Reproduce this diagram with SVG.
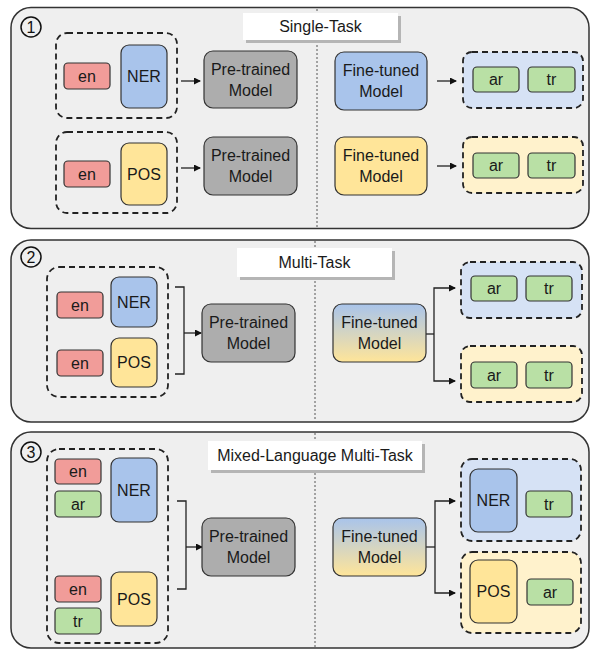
<svg xmlns="http://www.w3.org/2000/svg" width="590" height="650" viewBox="0 0 590 650">
<defs>
<linearGradient id="grad" x1="0" y1="0" x2="0" y2="1">
<stop offset="0" stop-color="#a9c4eb"/>
<stop offset="1" stop-color="#ffe599"/>
</linearGradient>
<marker id="arr" markerWidth="7" markerHeight="7" refX="6" refY="3.5" orient="auto" markerUnits="userSpaceOnUse">
<path d="M0,0 L7,3.5 L0,7 z" fill="#111"/>
</marker>
<style>
.panel{fill:#efefef;stroke:#333;stroke-width:1.5}
.div{stroke:#555;stroke-width:1;stroke-dasharray:2 2;fill:none}
.lblsh{fill:#b5b5b5}
.lbl{fill:#fff}
.grp{fill:none;stroke:#222;stroke-width:1.8;stroke-dasharray:6 4}
.gb{fill:#d6e2f5}
.gy{fill:#fff2cc}
.b{stroke:#333;stroke-width:1.2}
.en{fill:#f19c99}
.gr{fill:#b9e0a5}
.ner{fill:#a9c4eb}
.pos{fill:#ffe599}
.pre{fill:#adadad}
.ft{fill:url(#grad)}
text{font-family:"Liberation Sans",Arial,sans-serif;font-size:16px;fill:#1a1a1a;text-anchor:middle;dominant-baseline:central}
.num{fill:none;stroke:#111;stroke-width:1.5}
.num-t{font-size:16px;fill:#111}
.con{fill:none;stroke:#222;stroke-width:1.3}
</style>
</defs>

<!-- Panels -->
<g id="panel1">
<rect class="panel" x="11" y="7.5" width="578" height="221" rx="20"/>
<line class="div" x1="317" y1="9" x2="317" y2="227"/>
<rect class="lblsh" x="246" y="16" width="155" height="27"/>
<rect class="lbl" x="243" y="13" width="155" height="27"/>
<text x="320.5" y="26.5">Single-Task</text>
<circle class="num" cx="31" cy="27" r="10"/>
<text class="num-t" x="31" y="27.5">1</text>
</g>
<g id="panel2">
<rect class="panel" x="11" y="240" width="578" height="182" rx="20"/>
<line class="div" x1="315" y1="241" x2="315" y2="421"/>
<rect class="lblsh" x="240" y="251" width="155" height="29"/>
<rect class="lbl" x="237" y="248" width="155" height="29"/>
<text x="314.5" y="262.5">Multi-Task</text>
<circle class="num" cx="31" cy="257" r="10"/>
<text class="num-t" x="31" y="257.5">2</text>
</g>
<g id="panel3">
<rect class="panel" x="11" y="432" width="578" height="216" rx="20"/>
<line class="div" x1="315" y1="433" x2="315" y2="647"/>
<rect class="lblsh" x="211" y="444" width="214" height="29"/>
<rect class="lbl" x="208" y="441" width="214" height="29"/>
<text x="315" y="455.5">Mixed-Language Multi-Task</text>
<circle class="num" cx="31" cy="452" r="10"/>
<text class="num-t" x="31" y="452.5">3</text>
</g>

<!-- Connectors -->
<g id="connectors">
<path class="con" d="M181,81 H200" marker-end="url(#arr)"/>
<path class="con" d="M181,168 H200" marker-end="url(#arr)"/>
<path class="con" d="M437,81 H456" marker-end="url(#arr)"/>
<path class="con" d="M437,166 H456" marker-end="url(#arr)"/>
<path class="con" d="M175,287 H184 V374 H175"/>
<path class="con" d="M184,333 H201" marker-end="url(#arr)"/>
<path class="con" d="M426,334 H434"/>
<path class="con" d="M434,334 V288 H455" marker-end="url(#arr)"/>
<path class="con" d="M434,334 V381 H455" marker-end="url(#arr)"/>
<path class="con" d="M177,501 H186 V589 H177"/>
<path class="con" d="M186,547 H202" marker-end="url(#arr)"/>
<path class="con" d="M426,547 H435"/>
<path class="con" d="M435,547 V501 H455" marker-end="url(#arr)"/>
<path class="con" d="M435,547 V593 H455" marker-end="url(#arr)"/>
</g>

<!-- Panel 1 nodes -->
<g id="p1-input-ner">
<rect class="grp" x="56" y="33" width="121" height="85" rx="11"/>
<rect class="b en" x="64" y="63" width="46" height="26" rx="4"/><text x="87" y="76">en</text>
<rect class="b ner" x="121" y="45" width="46" height="63" rx="8"/><text x="144" y="76.5">NER</text>
</g>
<g id="p1-pretrained-1">
<rect class="b pre" x="204" y="51" width="93" height="57" rx="9"/>
<text x="250.5" y="69">Pre-trained</text><text x="250.5" y="90">Model</text>
</g>
<g id="p1-input-pos">
<rect class="grp" x="56" y="132" width="121" height="81" rx="11"/>
<rect class="b en" x="64" y="161" width="46" height="26" rx="4"/><text x="87" y="174">en</text>
<rect class="b pos" x="121" y="143" width="46" height="62" rx="8"/><text x="144" y="174">POS</text>
</g>
<g id="p1-pretrained-2">
<rect class="b pre" x="204" y="137" width="93" height="58" rx="9"/>
<text x="250.5" y="155.5">Pre-trained</text><text x="250.5" y="176.5">Model</text>
</g>
<g id="p1-finetuned-ner">
<rect class="b ner" x="335" y="52" width="92" height="58" rx="9"/>
<text x="381" y="70.5">Fine-tuned</text><text x="381" y="91.5">Model</text>
</g>
<g id="p1-output-ner">
<rect class="grp gb" x="463" y="52" width="120" height="56" rx="9"/>
<rect class="b gr" x="473" y="67" width="46" height="25" rx="4"/><text x="496" y="79.5">ar</text>
<rect class="b gr" x="528" y="67" width="47" height="25" rx="4"/><text x="551.5" y="79.5">tr</text>
</g>
<g id="p1-finetuned-pos">
<rect class="b pos" x="335" y="137" width="92" height="58" rx="9"/>
<text x="381" y="155.5">Fine-tuned</text><text x="381" y="176.5">Model</text>
</g>
<g id="p1-output-pos">
<rect class="grp gy" x="463" y="137" width="120" height="56" rx="9"/>
<rect class="b gr" x="473" y="153" width="46" height="25" rx="4"/><text x="496" y="165.5">ar</text>
<rect class="b gr" x="528" y="153" width="47" height="25" rx="4"/><text x="551.5" y="165.5">tr</text>
</g>

<!-- Panel 2 nodes -->
<g id="p2-input">
<rect class="grp" x="47" y="267" width="121" height="130" rx="12"/>
<rect class="b en" x="57" y="292" width="46" height="26" rx="4"/><text x="80" y="305">en</text>
<rect class="b ner" x="111" y="277" width="46" height="50" rx="8"/><text x="134" y="302">NER</text>
<rect class="b en" x="57" y="350" width="46" height="26" rx="4"/><text x="80" y="363">en</text>
<rect class="b pos" x="111" y="338" width="46" height="49" rx="8"/><text x="134" y="362.5">POS</text>
</g>
<g id="p2-pretrained">
<rect class="b pre" x="202" y="304" width="93" height="58" rx="9"/>
<text x="248.5" y="322.5">Pre-trained</text><text x="248.5" y="343.5">Model</text>
</g>
<g id="p2-finetuned">
<rect class="b ft" x="333" y="304" width="93" height="58" rx="9"/>
<text x="379.5" y="322.5">Fine-tuned</text><text x="379.5" y="343.5">Model</text>
</g>
<g id="p2-output-ner">
<rect class="grp gb" x="461" y="262" width="121" height="56" rx="9"/>
<rect class="b gr" x="471" y="276" width="46" height="25" rx="4"/><text x="494" y="288.5">ar</text>
<rect class="b gr" x="526" y="276" width="46" height="25" rx="4"/><text x="549" y="288.5">tr</text>
</g>
<g id="p2-output-pos">
<rect class="grp gy" x="461" y="346" width="121" height="56" rx="9"/>
<rect class="b gr" x="471" y="362" width="46" height="26" rx="4"/><text x="494" y="375">ar</text>
<rect class="b gr" x="526" y="362" width="46" height="26" rx="4"/><text x="549" y="375">tr</text>
</g>

<!-- Panel 3 nodes -->
<g id="p3-input">
<rect class="grp" x="47" y="449" width="121" height="194" rx="12"/>
<rect class="b en" x="55" y="459" width="46" height="25" rx="4"/><text x="78" y="471.5">en</text>
<rect class="b gr" x="55" y="491" width="46" height="26" rx="4"/><text x="78" y="504">ar</text>
<rect class="b ner" x="111" y="458" width="46" height="64" rx="8"/><text x="134" y="490">NER</text>
<rect class="b en" x="55" y="576" width="46" height="26" rx="4"/><text x="78" y="589">en</text>
<rect class="b gr" x="55" y="608" width="46" height="26" rx="4"/><text x="78" y="621">tr</text>
<rect class="b pos" x="111" y="572" width="46" height="54" rx="8"/><text x="134" y="599">POS</text>
</g>
<g id="p3-pretrained">
<rect class="b pre" x="202" y="518" width="93" height="58" rx="9"/>
<text x="248.5" y="536.5">Pre-trained</text><text x="248.5" y="557.5">Model</text>
</g>
<g id="p3-finetuned">
<rect class="b ft" x="333" y="518" width="93" height="58" rx="9"/>
<text x="379.5" y="536.5">Fine-tuned</text><text x="379.5" y="557.5">Model</text>
</g>
<g id="p3-output-ner">
<rect class="grp gb" x="461" y="459" width="120" height="82" rx="11"/>
<rect class="b ner" x="470" y="469" width="47" height="63" rx="8"/><text x="493.5" y="500.5">NER</text>
<rect class="b gr" x="526" y="491" width="46" height="26" rx="4"/><text x="549" y="504">tr</text>
</g>
<g id="p3-output-pos">
<rect class="grp gy" x="461" y="552" width="120" height="81" rx="11"/>
<rect class="b pos" x="470" y="560" width="47" height="63" rx="8"/><text x="493.5" y="591.5">POS</text>
<rect class="b gr" x="527" y="579" width="46" height="26" rx="4"/><text x="550" y="592">ar</text>
</g>
</svg>
